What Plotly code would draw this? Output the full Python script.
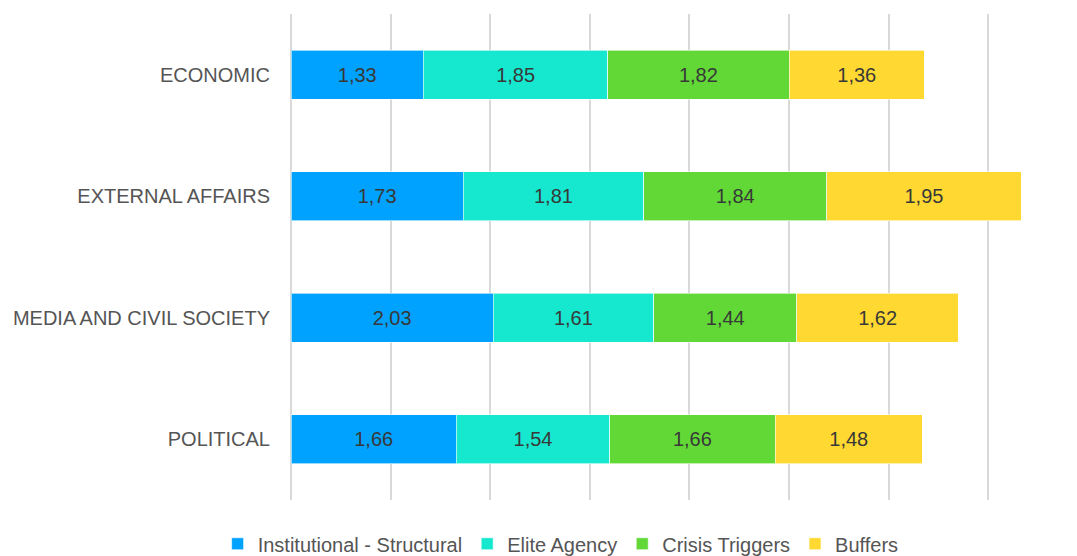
import plotly.graph_objects as go

categories = ["ECONOMIC", "EXTERNAL AFFAIRS", "MEDIA AND CIVIL SOCIETY", "POLITICAL"]
series_names = ["Institutional - Structural", "Elite Agency", "Crisis Triggers", "Buffers"]
institutional = [1.33, 1.73, 2.03, 1.66]
elite = [1.85, 1.81, 1.61, 1.54]
crisis = [1.82, 1.84, 1.44, 1.66]
buffers = [1.36, 1.95, 1.62, 1.48]
colors = ["#00A2FF", "#16E7CF", "#61D836", "#FFD932"]

fig = go.Figure()
for name, vals, col in zip(series_names, [institutional, elite, crisis, buffers], colors):
    fig.add_trace(go.Bar(
        y=categories, x=vals, name=name, orientation="h",
        marker=dict(color=col, line=dict(color="rgba(255,255,255,0.6)", width=1)),
        text=[f"{v:.2f}".replace(".", ",") for v in vals],
        textposition="inside", insidetextanchor="middle",
        textfont=dict(color="#383838", size=20, family="Liberation Sans"),
    ))

fig.update_layout(
    barmode="stack",
    bargap=0.6,
    width=1077, height=556,
    margin=dict(l=291, r=37, t=14, b=56, autoexpand=False),
    plot_bgcolor="white", paper_bgcolor="white",
    font=dict(family="Liberation Sans", size=20, color="#555555"),
    xaxis=dict(range=[0, 7.52], dtick=1, showticklabels=False, showgrid=True,
               gridcolor="#d9d9d9", gridwidth=1.5, zeroline=True,
               zerolinecolor="#d9d9d9", zerolinewidth=1.5, fixedrange=True),
    yaxis=dict(autorange="reversed", ticks="", ticklabelstandoff=20,
               tickfont=dict(size=20, color="#555555")),
    legend=dict(orientation="h", x=0.36, xanchor="center", y=-0.09, yanchor="middle",
                font=dict(size=20, color="#555555"), traceorder="normal",
                itemwidth=30),
    showlegend=True,
)

fig.write_html("out.html")
